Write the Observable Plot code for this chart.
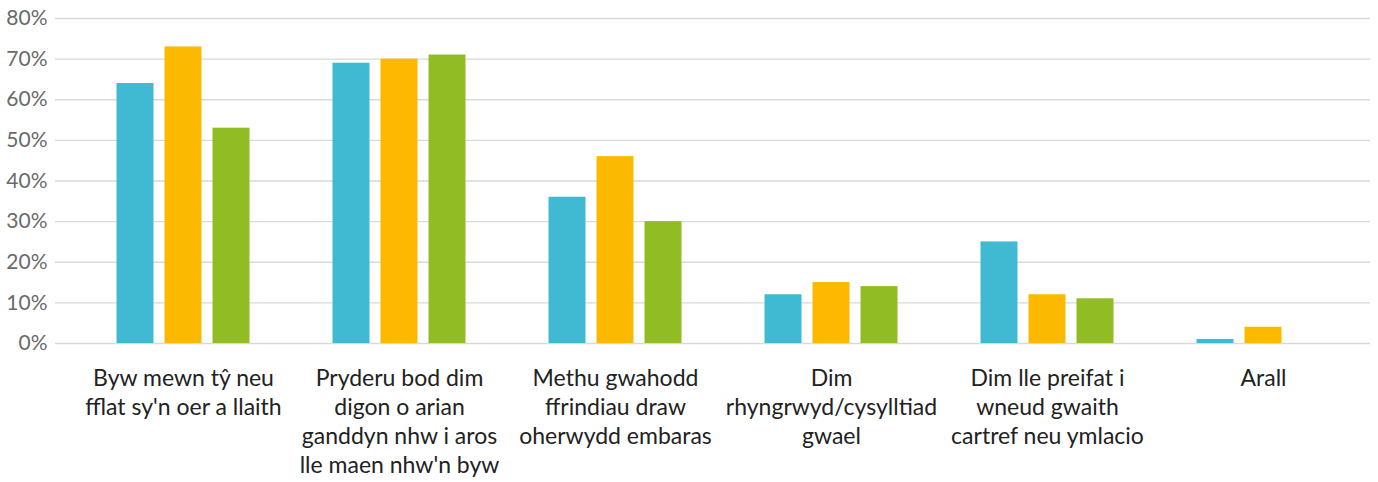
<!DOCTYPE html>
<html>
<head>
<meta charset="utf-8">
<script src="https://cdn.jsdelivr.net/npm/d3@7"></script>
<script src="https://cdn.jsdelivr.net/npm/@observablehq/plot@0.6"></script>
<style>
  html, body { margin: 0; padding: 0; background: #fff; }
  #chart { width: 1378px; height: 482px; }
</style>
</head>
<body>
<div id="chart"></div>
<script>
const categories = [
  "Byw mewn tŷ neu\nfflat sy'n oer a llaith",
  "Pryderu bod dim\ndigon o arian\nganddyn nhw i aros\nlle maen nhw'n byw",
  "Methu gwahodd\nffrindiau draw\noherwydd embaras",
  "Dim\nrhyngrwyd/cysylltiad\ngwael",
  "Dim lle preifat i\nwneud gwaith\ncartref neu ymlacio",
  "Arall"
];
const seriesNames = ["Cyfres 1", "Cyfres 2", "Cyfres 3"];
const series1 = [64, 69, 36, 12, 25, 1];
const series2 = [73, 70, 46, 15, 12, 4];
const series3 = [53, 71, 30, 14, 11, null];
const yTicks = [0, 10, 20, 30, 40, 50, 60, 70, 80];

const colors = ["#40BAD2", "#FDB900", "#92BC23"];
const allSeries = [series1, series2, series3];
const offsets = [-48, 0, 48];

const rows = allSeries.map(vals => categories.map((c, i) => ({category: c, value: vals[i]})).filter(d => d.value != null));

const barMarks = rows.map((data, k) => Plot.barY(data, {
  x: "category", y: "value", fill: colors[k], dx: offsets[k],
  insetLeft: 89.5, insetRight: 89.5
}));

const chart = Plot.plot({
  width: 1378,
  height: 482,
  marginTop: 18,
  marginBottom: 139,
  marginLeft: 55,
  marginRight: 8,
  style: {fontFamily: "Lato, 'Open Sans', sans-serif", background: "#fff"},
  x: {domain: categories, range: [74.5, 1371], padding: 0},
  y: {domain: [0, 80], ticks: yTicks},
  marks: [
    Plot.ruleY(yTicks, {stroke: "#d9d9d9", strokeWidth: 1.3}),
    ...barMarks,
    Plot.axisY({ticks: yTicks, tickSize: 0, tickPadding: 8, tickFormat: d => d + "%", fontSize: 21, fill: "#6a6a6a", label: null}),
    Plot.axisX({tickSize: 0, tickPadding: 22, fontSize: 23, fill: "#222", lineHeight: 1.26, label: null})
  ]
});
document.getElementById("chart").appendChild(chart);
</script>
</body>
</html>
